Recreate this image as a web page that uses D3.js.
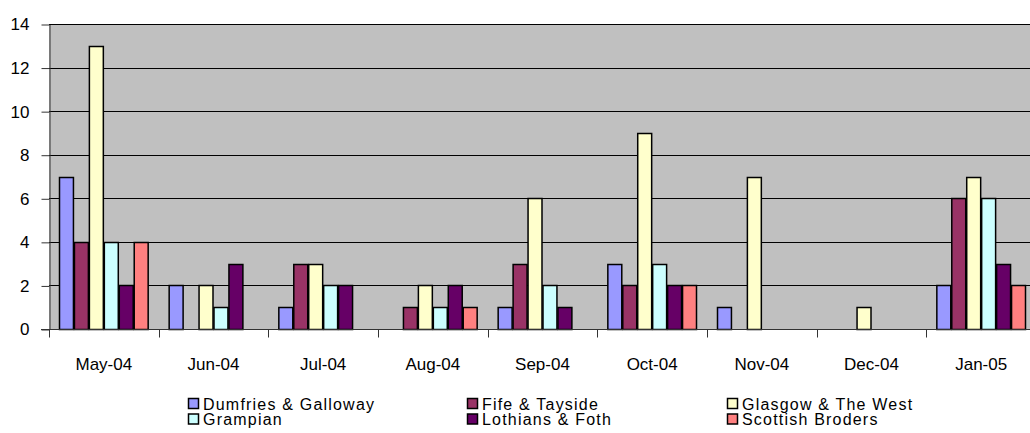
<!DOCTYPE html>
<html>
<head>
<meta charset="utf-8">
<script src="https://cdn.jsdelivr.net/npm/d3@7"></script>
<style>
  body { margin: 0; background: #fff; overflow: hidden; }
  svg { display: block; }
  text { font-family: "Liberation Sans", Arial, sans-serif; }
</style>
</head>
<body>
<svg id="canvas"></svg>
<script>
const months = ["May-04", "Jun-04", "Jul-04", "Aug-04", "Sep-04", "Oct-04", "Nov-04", "Dec-04", "Jan-05"];
const regions = ["Dumfries & Galloway", "Fife & Tayside", "Glasgow & The West", "Grampian", "Lothians & Foth", "Scottish Broders"];
const colors = ["#9999FF", "#993366", "#FFFFCC", "#CCFFFF", "#660066", "#FF8080"];

const dumfries = [7, 2, 1, 0, 1, 3, 1, 0, 2];
const fife     = [4, 0, 3, 1, 3, 2, 0, 0, 6];
const glasgow  = [13, 2, 3, 2, 6, 9, 7, 1, 7];
const grampian = [4, 1, 2, 1, 2, 3, 0, 0, 6];
const lothians = [2, 3, 2, 2, 1, 2, 0, 0, 3];
const borders  = [4, 0, 0, 1, 0, 2, 0, 0, 2];
const series = [dumfries, fife, glasgow, grampian, lothians, borders];
const yTicks = [0, 2, 4, 6, 8, 10, 12, 14];

const width = 1030;
const height = 433;
const margin = {top: 24, right: -6, bottom: 104, left: 49};
const innerWidth = width - margin.left - margin.right;
const innerHeight = height - margin.top - margin.bottom;

const svg = d3.select("#canvas").attr("width", width).attr("height", height);
const mainGroup = svg.append("g").attr("transform", `translate(${margin.left}, ${margin.top})`);

const xScale = d3.scaleBand().domain(months).range([0, innerWidth]);
const barScale = d3.scaleBand().domain(d3.range(regions.length)).range([10, xScale.bandwidth() - 10]);
const yScale = d3.scaleLinear().domain([0, 14]).range([innerHeight, 0]);
const zScale = d3.scaleOrdinal().domain(regions).range(colors);

// plot background
mainGroup.append("rect")
    .attr("width", innerWidth)
    .attr("height", innerHeight)
    .attr("fill", "#C0C0C0");

// gridlines
mainGroup.selectAll("line.grid")
    .data(yTicks.filter(d => d > 0))
    .join("line")
    .attr("class", "grid")
    .attr("x1", 0).attr("x2", innerWidth)
    .attr("y1", d => Math.round(yScale(d)) + 0.5)
    .attr("y2", d => Math.round(yScale(d)) + 0.5)
    .attr("stroke", "#000")
    .attr("stroke-width", 1);

// bars
const groups = mainGroup.selectAll("g.month")
    .data(months)
    .join("g")
    .attr("class", "month")
    .attr("transform", d => `translate(${xScale(d)}, 0)`);

groups.selectAll("rect")
    .data((m, i) => series.map((s, j) => ({j, v: s[i]})).filter(d => d.v > 0))
    .join("rect")
    .attr("x", d => barScale(d.j) + 0.5)
    .attr("y", d => Math.round(yScale(d.v)) + 0.5)
    .attr("width", barScale.bandwidth() - 1)
    .attr("height", d => Math.round(yScale(0)) - Math.round(yScale(d.v)))
    .attr("fill", d => colors[d.j])
    .attr("stroke", "#000")
    .attr("stroke-width", 1.5);

// y axis
const yAxis = d3.axisLeft(yScale).tickValues(yTicks).tickSize(8).tickPadding(12).tickSizeOuter(0);
svg.append("g")
    .attr("transform", `translate(${margin.left + 0.5}, ${margin.top + 0.5})`)
    .call(yAxis)
    .call(g => g.selectAll("path, line").attr("stroke", "#333"))
    .call(g => g.selectAll("text")
        .attr("fill", "#000")
        .style("font-size", "17px")
        .style("font-family", null));

// x axis
const xAxisGroup = svg.append("g")
    .attr("transform", `translate(${margin.left}, ${margin.top + innerHeight + 0.5})`);
xAxisGroup.append("line")
    .attr("x1", -8).attr("x2", innerWidth)
    .attr("stroke", "#333");
xAxisGroup.selectAll("line.tick")
    .data(months)
    .join("line")
    .attr("class", "tick")
    .attr("x1", d => Math.round(xScale(d)) + 0.5)
    .attr("x2", d => Math.round(xScale(d)) + 0.5)
    .attr("y1", 0).attr("y2", 8)
    .attr("stroke", "#333");
xAxisGroup.selectAll("text")
    .data(months)
    .join("text")
    .attr("x", d => xScale(d) + xScale.bandwidth() / 2)
    .attr("y", 40)
    .attr("text-anchor", "middle")
    .style("font-size", "17px")
    .attr("fill", "#000")
    .text(d => d);

// legend
const legendCols = [188, 467, 727];
const legendRows = [404, 419.5];
const legend = svg.append("g").selectAll("g")
    .data(regions)
    .join("g")
    .attr("transform", (d, i) => `translate(${legendCols[i % 3]}, ${legendRows[Math.floor(i / 3)]})`);
legend.append("rect")
    .attr("x", 0.5).attr("y", -5.5)
    .attr("width", 10).attr("height", 10)
    .attr("fill", d => zScale(d))
    .attr("stroke", "#000")
    .attr("stroke-width", 1.5);
legend.append("text")
    .attr("x", 15)
    .attr("y", 5.5)
    .style("font-size", "16px")
    .style("letter-spacing", "1.2px")
    .attr("fill", "#000")
    .text(d => d);
</script>
</body>
</html>
